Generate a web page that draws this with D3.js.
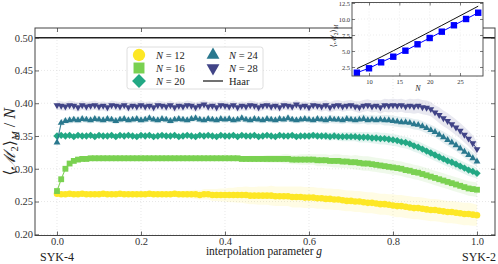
<!DOCTYPE html>
<html>
<head>
<meta charset="utf-8">
<script src="https://cdn.jsdelivr.net/npm/d3@7"></script>
<style>
  body { margin: 0; background: #fff; }
  svg { display: block; font-family: "Liberation Serif", "DejaVu Serif", serif; }
</style>
</head>
<body>
<div id="chart"></div>
<script>
// interpolation parameter g, 0 .. 1 in steps of 0.01
const gValues = d3.range(0, 101).map(i => i / 100);
const sizes = [12, 16, 20, 24, 28];
const xTicks = [0, 0.2, 0.4, 0.6, 0.8, 1.0];
const yTicks = [0.20, 0.25, 0.30, 0.35, 0.40, 0.45, 0.50];
const haarLevel = 0.5;

// <M2>_M / N, mean over samples
const mean12 = [
  0.262,0.261,0.261,0.262,0.261,0.261,0.262,0.261,0.261,0.261,
  0.261,0.262,0.261,0.261,0.261,0.262,0.261,0.261,0.261,0.261,
  0.261,0.261,0.262,0.261,0.261,0.261,0.261,0.261,0.262,0.261,
  0.261,0.261,0.261,0.261,0.260,0.261,0.261,0.260,0.260,0.260,
  0.260,0.260,0.260,0.260,0.260,0.260,0.259,0.259,0.259,0.259,
  0.259,0.259,0.258,0.258,0.258,0.258,0.257,0.257,0.257,0.256,
  0.256,0.256,0.255,0.255,0.254,0.254,0.253,0.253,0.252,0.251,
  0.251,0.250,0.250,0.249,0.248,0.248,0.247,0.246,0.246,0.245,
  0.244,0.243,0.243,0.242,0.241,0.240,0.240,0.239,0.238,0.237,
  0.237,0.236,0.235,0.234,0.234,0.233,0.232,0.231,0.231,0.230,
  0.229];
const mean16 = [
  0.266,0.284,0.300,0.308,0.312,0.314,0.315,0.315,0.316,0.316,
  0.316,0.316,0.316,0.316,0.316,0.316,0.316,0.316,0.316,0.316,
  0.316,0.316,0.316,0.316,0.316,0.316,0.316,0.316,0.316,0.316,
  0.316,0.316,0.316,0.316,0.316,0.316,0.316,0.316,0.316,0.316,
  0.316,0.316,0.316,0.316,0.315,0.315,0.315,0.315,0.315,0.315,
  0.315,0.315,0.315,0.315,0.315,0.315,0.314,0.314,0.314,0.314,
  0.314,0.314,0.313,0.313,0.313,0.312,0.312,0.312,0.311,0.311,
  0.310,0.310,0.309,0.308,0.308,0.307,0.306,0.305,0.304,0.303,
  0.302,0.301,0.300,0.298,0.297,0.295,0.294,0.292,0.290,0.288,
  0.286,0.284,0.282,0.280,0.278,0.276,0.274,0.272,0.270,0.269,
  0.268];
const mean20 = [
  0.350,0.351,0.350,0.351,0.349,0.351,0.350,0.350,0.351,0.349,
  0.351,0.350,0.350,0.351,0.349,0.351,0.350,0.351,0.350,0.349,
  0.351,0.350,0.351,0.349,0.350,0.351,0.350,0.350,0.351,0.349,
  0.350,0.351,0.350,0.349,0.351,0.350,0.351,0.350,0.349,0.351,
  0.350,0.350,0.351,0.349,0.351,0.350,0.350,0.351,0.349,0.350,
  0.351,0.350,0.349,0.351,0.350,0.350,0.351,0.349,0.350,0.350,
  0.350,0.351,0.350,0.350,0.350,0.349,0.350,0.349,0.349,0.349,
  0.349,0.349,0.348,0.348,0.348,0.347,0.347,0.346,0.346,0.345,
  0.344,0.343,0.341,0.340,0.338,0.335,0.333,0.330,0.327,0.324,
  0.321,0.318,0.315,0.312,0.310,0.307,0.304,0.301,0.298,0.296,
  0.293];
const mean24 = [
  0.340,0.370,0.373,0.374,0.375,0.374,0.376,0.375,0.374,0.376,
  0.375,0.374,0.376,0.375,0.373,0.375,0.376,0.374,0.375,0.376,
  0.374,0.375,0.377,0.375,0.374,0.376,0.375,0.373,0.375,0.376,
  0.375,0.374,0.376,0.377,0.375,0.374,0.376,0.375,0.374,0.376,
  0.375,0.376,0.374,0.375,0.377,0.375,0.374,0.376,0.375,0.374,
  0.376,0.375,0.374,0.376,0.375,0.377,0.375,0.374,0.375,0.376,
  0.375,0.374,0.376,0.375,0.374,0.376,0.375,0.375,0.374,0.376,
  0.375,0.374,0.375,0.376,0.374,0.375,0.374,0.375,0.374,0.374,
  0.373,0.372,0.371,0.371,0.370,0.368,0.367,0.365,0.362,0.359,
  0.356,0.352,0.348,0.344,0.340,0.336,0.331,0.326,0.321,0.316,
  0.311];
const mean28 = [
  0.397,0.396,0.395,0.397,0.396,0.394,0.397,0.395,0.396,0.397,
  0.395,0.396,0.394,0.397,0.396,0.395,0.397,0.394,0.396,0.395,
  0.397,0.395,0.396,0.394,0.397,0.396,0.395,0.397,0.394,0.396,
  0.395,0.397,0.396,0.394,0.396,0.398,0.395,0.396,0.394,0.397,
  0.396,0.395,0.397,0.394,0.396,0.395,0.397,0.396,0.394,0.396,
  0.397,0.395,0.396,0.394,0.397,0.396,0.395,0.398,0.395,0.396,
  0.394,0.397,0.396,0.395,0.397,0.394,0.396,0.397,0.395,0.396,
  0.397,0.395,0.394,0.396,0.397,0.395,0.396,0.394,0.397,0.396,
  0.397,0.396,0.397,0.395,0.396,0.395,0.396,0.394,0.393,0.391,
  0.386,0.382,0.377,0.373,0.368,0.363,0.358,0.352,0.346,0.339,
  0.330];

// sample spread (half width of the shaded band)
const std12 = [
  0.003,0.003,0.003,0.003,0.003,0.003,0.003,0.003,0.003,0.003,
  0.003,0.003,0.003,0.003,0.003,0.003,0.003,0.003,0.003,0.003,
  0.003,0.003,0.003,0.003,0.004,0.004,0.004,0.004,0.005,0.005,
  0.005,0.006,0.006,0.007,0.007,0.008,0.008,0.009,0.009,0.010,
  0.010,0.011,0.011,0.012,0.012,0.013,0.013,0.013,0.014,0.014,
  0.014,0.015,0.015,0.015,0.015,0.015,0.016,0.016,0.016,0.016,
  0.016,0.016,0.016,0.016,0.016,0.016,0.016,0.016,0.016,0.016,
  0.016,0.016,0.016,0.016,0.016,0.016,0.016,0.016,0.016,0.016,
  0.017,0.017,0.017,0.017,0.017,0.017,0.017,0.017,0.017,0.017,
  0.017,0.017,0.017,0.017,0.017,0.017,0.017,0.017,0.017,0.017,
  0.016];
const std16 = [
  0.004,0.004,0.003,0.003,0.003,0.003,0.003,0.003,0.003,0.003,
  0.003,0.003,0.003,0.003,0.003,0.003,0.003,0.003,0.003,0.003,
  0.003,0.003,0.003,0.003,0.003,0.003,0.003,0.003,0.003,0.003,
  0.003,0.003,0.003,0.003,0.003,0.003,0.003,0.003,0.003,0.003,
  0.003,0.003,0.004,0.004,0.004,0.004,0.005,0.005,0.005,0.005,
  0.006,0.006,0.006,0.006,0.007,0.007,0.007,0.007,0.008,0.008,
  0.008,0.008,0.009,0.009,0.009,0.009,0.010,0.010,0.010,0.010,
  0.010,0.011,0.011,0.011,0.011,0.011,0.011,0.011,0.011,0.011,
  0.011,0.011,0.011,0.011,0.011,0.011,0.011,0.011,0.011,0.011,
  0.011,0.011,0.011,0.011,0.011,0.011,0.011,0.011,0.011,0.011,
  0.011];
const std20 = [
  0.002,0.002,0.002,0.002,0.002,0.002,0.002,0.002,0.002,0.002,
  0.002,0.002,0.002,0.002,0.002,0.002,0.002,0.002,0.002,0.002,
  0.002,0.002,0.002,0.002,0.002,0.002,0.002,0.002,0.002,0.002,
  0.002,0.002,0.002,0.002,0.002,0.002,0.002,0.002,0.002,0.002,
  0.002,0.002,0.002,0.002,0.002,0.002,0.002,0.002,0.002,0.002,
  0.002,0.002,0.003,0.003,0.003,0.003,0.004,0.004,0.004,0.004,
  0.005,0.005,0.005,0.005,0.006,0.006,0.006,0.006,0.007,0.007,
  0.007,0.007,0.008,0.008,0.008,0.008,0.009,0.009,0.009,0.009,
  0.009,0.009,0.009,0.009,0.009,0.009,0.009,0.009,0.009,0.009,
  0.009,0.009,0.009,0.009,0.009,0.009,0.009,0.009,0.009,0.009,
  0.008];
const std24 = [
  0.006,0.005,0.005,0.005,0.005,0.005,0.005,0.005,0.005,0.005,
  0.005,0.005,0.005,0.005,0.005,0.005,0.005,0.005,0.005,0.005,
  0.005,0.005,0.005,0.005,0.005,0.005,0.005,0.005,0.005,0.005,
  0.005,0.005,0.005,0.005,0.005,0.005,0.005,0.005,0.005,0.005,
  0.005,0.005,0.005,0.005,0.005,0.005,0.005,0.005,0.005,0.005,
  0.005,0.005,0.005,0.005,0.005,0.005,0.005,0.005,0.005,0.005,
  0.005,0.005,0.005,0.006,0.006,0.006,0.006,0.006,0.006,0.006,
  0.006,0.006,0.007,0.007,0.007,0.007,0.007,0.007,0.008,0.008,
  0.008,0.008,0.008,0.008,0.008,0.008,0.008,0.008,0.008,0.008,
  0.008,0.008,0.009,0.009,0.009,0.009,0.009,0.009,0.009,0.009,
  0.008];
const std28 = [
  0.007,0.007,0.007,0.007,0.007,0.007,0.007,0.007,0.007,0.007,
  0.007,0.007,0.007,0.007,0.007,0.007,0.007,0.007,0.007,0.007,
  0.007,0.007,0.007,0.007,0.007,0.007,0.007,0.007,0.007,0.007,
  0.007,0.007,0.007,0.007,0.007,0.007,0.007,0.007,0.007,0.007,
  0.007,0.007,0.007,0.007,0.007,0.007,0.007,0.007,0.007,0.007,
  0.007,0.007,0.007,0.007,0.007,0.007,0.007,0.007,0.007,0.007,
  0.007,0.007,0.007,0.008,0.008,0.008,0.008,0.008,0.008,0.008,
  0.008,0.008,0.009,0.009,0.009,0.009,0.009,0.010,0.010,0.010,
  0.010,0.010,0.010,0.010,0.011,0.011,0.011,0.011,0.011,0.011,
  0.011,0.012,0.012,0.012,0.012,0.012,0.012,0.012,0.012,0.012,
  0.011];

// inset: <M2>_M versus N
const insetN = [8, 10, 12, 14, 16, 18, 20, 22, 24, 26, 28];
const insetMagic = [1.61, 2.30, 3.23, 4.11, 5.05, 6.05, 7.03, 8.02, 9.02, 10.00, 10.98];
const insetHaar = [2.25, 3.13, 4.07, 5.04, 6.02, 7.01, 8.00, 9.00, 10.00, 11.00, 12.00];
const insetXTicks = [10, 15, 20, 25];
const insetYTicks = [2.5, 5.0, 7.5, 10.0, 12.5];

const means = [mean12, mean16, mean20, mean24, mean28];
const stds = [std12, std16, std20, std24, std28];
const colors = ['#fde725', '#7ad151', '#22a884', '#2a788e', '#414487'];
const shapes = ['circle', 'square', 'diamond', 'up', 'down'];

const width = 498, height = 264;
const frame = { left: 35, right: 495, top: 28, bottom: 235.5 };

const svg = d3.select('#chart').append('svg')
  .attr('width', width)
  .attr('height', height);

const x = d3.scaleLinear().domain([0, 1]).range([57, 477]);
const y = d3.scaleLinear().domain([0.2, 0.5]).range([234.3, 37.7]);

function markerPath(shape, size) {
  if (shape == 'circle') return d3.symbol().type(d3.symbolCircle).size(size)();
  if (shape == 'square') return d3.symbol().type(d3.symbolSquare).size(size)();
  if (shape == 'diamond') return d3.symbol().type(d3.symbolSquare).size(size * 0.8)();
  return d3.symbol().type(d3.symbolTriangle).size(size * 0.6)();
}
function markerRotation(shape) {
  if (shape == 'diamond') return 45;
  if (shape == 'down') return 180;
  return 0;
}

// grid
const grid = svg.append('g').attr('class', 'grid');
grid.selectAll('.gx').data(xTicks).enter().append('line')
  .attr('x1', d => x(d)).attr('x2', d => x(d))
  .attr('y1', frame.top).attr('y2', frame.bottom);
grid.selectAll('.gy').data(yTicks).enter().append('line')
  .attr('x1', frame.left).attr('x2', frame.right)
  .attr('y1', d => y(d)).attr('y2', d => y(d));
grid.selectAll('line')
  .attr('stroke', '#d8d8d8').attr('stroke-width', 0.6).attr('stroke-dasharray', '1,2');

// series: band, line, markers
const plot = svg.append('g').attr('class', 'series');
sizes.forEach((n, k) => {
  const rows = gValues.map((g, i) => ({ g: g, m: means[k][i], s: stds[k][i] }));
  const area = d3.area()
    .x(d => x(d.g))
    .y0(d => y(d.m - d.s))
    .y1(d => y(d.m + d.s));
  const line = d3.line().x(d => x(d.g)).y(d => y(d.m));

  plot.append('path').datum(rows)
    .attr('d', area)
    .attr('fill', colors[k])
    .attr('fill-opacity', 0.12);
  plot.append('path').datum(rows)
    .attr('d', line)
    .attr('fill', 'none')
    .attr('stroke', colors[k])
    .attr('stroke-width', 1);
  plot.append('g').selectAll('path').data(rows).enter().append('path')
    .attr('d', markerPath(shapes[k], 34))
    .attr('transform', d => 'translate(' + x(d.g) + ',' + y(d.m) + ') rotate(' + markerRotation(shapes[k]) + ')')
    .attr('fill', colors[k]);
});

// Haar value
svg.append('line')
  .attr('x1', frame.left).attr('x2', frame.right)
  .attr('y1', y(haarLevel)).attr('y2', y(haarLevel))
  .attr('stroke', '#222').attr('stroke-width', 1.6);

// axes with inward ticks
const axes = svg.append('g').attr('class', 'axes');
axes.append('g').attr('transform', 'translate(0,' + frame.bottom + ')')
  .call(d3.axisBottom(x).tickValues(xTicks).tickFormat(d3.format('.1f')).tickSizeInner(-4).tickSizeOuter(0).tickPadding(2.5));
axes.append('g').attr('transform', 'translate(0,' + frame.top + ')')
  .call(d3.axisTop(x).tickValues(xTicks).tickFormat('').tickSizeInner(-4).tickSizeOuter(0));
axes.append('g').attr('transform', 'translate(' + frame.left + ',0)')
  .call(d3.axisLeft(y).tickValues(yTicks).tickFormat(d3.format('.2f')).tickSizeInner(-4).tickSizeOuter(0).tickPadding(2));
axes.append('g').attr('transform', 'translate(' + frame.right + ',0)')
  .call(d3.axisRight(y).tickValues(yTicks).tickFormat('').tickSizeInner(-4).tickSizeOuter(0));
axes.selectAll('.domain').remove();
axes.selectAll('.tick line').attr('stroke', '#444').attr('stroke-width', 0.8);
axes.selectAll('.tick text')
  .attr('font-family', '"Liberation Serif", serif')
  .attr('font-size', 10.5)
  .attr('fill', '#333');

svg.append('rect')
  .attr('x', frame.left).attr('y', frame.top)
  .attr('width', frame.right - frame.left).attr('height', frame.bottom - frame.top)
  .attr('fill', 'none').attr('stroke', '#444').attr('stroke-width', 1);

// axis titles
const xTitle = svg.append('text')
  .attr('x', 264).attr('y', 254.5)
  .attr('text-anchor', 'middle')
  .attr('font-size', 11.5)
  .attr('fill', '#222');
xTitle.append('tspan').text('interpolation parameter ');
xTitle.append('tspan').attr('font-style', 'italic').text('g');

svg.append('text').attr('x', 57).attr('y', 261)
  .attr('text-anchor', 'middle').attr('font-size', 12).attr('fill', '#222').text('SYK-4');
svg.append('text').attr('x', 479).attr('y', 261)
  .attr('text-anchor', 'middle').attr('font-size', 12).attr('fill', '#222').text('SYK-2');

const yTitle = svg.append('text')
  .attr('transform', 'translate(15,142) rotate(-90)')
  .attr('text-anchor', 'middle')
  .attr('font-size', 16)
  .attr('fill', '#222');
yTitle.append('tspan').text('⟨');
yTitle.append('tspan').attr('font-style', 'italic').text('ℳ');
yTitle.append('tspan').attr('font-size', 10.5).attr('dy', 3).text('2');
yTitle.append('tspan').attr('dy', -3).text('⟩');
yTitle.append('tspan').attr('font-size', 10.5).attr('font-style', 'italic').attr('dy', 4).text('M');
yTitle.append('tspan').attr('dy', -4).text(' / ');
yTitle.append('tspan').attr('font-style', 'italic').text('N');

// legend
const legend = svg.append('g').attr('class', 'legend');
legend.append('rect')
  .attr('x', 127).attr('y', 47).attr('width', 136).attr('height', 42).attr('rx', 2.5)
  .attr('fill', '#fff').attr('fill-opacity', 0.85)
  .attr('stroke', '#d6d6d6').attr('stroke-width', 0.8);
const legendItems = sizes.map((n, k) => ({
  n: n, k: k,
  cx: k < 3 ? 139 : 213,
  cy: [55, 68, 81][k < 3 ? k : k - 3],
  tx: k < 3 ? 156 : 229
}));
legendItems.forEach(d => {
  legend.append('path')
    .attr('d', markerPath(shapes[d.k], 120))
    .attr('transform', 'translate(' + d.cx + ',' + d.cy + ') rotate(' + markerRotation(shapes[d.k]) + ')')
    .attr('fill', colors[d.k]);
  const t = legend.append('text').attr('x', d.tx).attr('y', d.cy + 3.5)
    .attr('font-size', 10.5).attr('fill', '#222');
  t.append('tspan').attr('font-style', 'italic').text('N');
  t.append('tspan').text(' = ' + d.n);
});
legend.append('line')
  .attr('x1', 203).attr('x2', 223).attr('y1', 81).attr('y2', 81)
  .attr('stroke', '#111').attr('stroke-width', 1.2);
legend.append('text').attr('x', 229).attr('y', 84.5)
  .attr('font-size', 10.5).attr('fill', '#222').text('Haar');

// inset
const inset = { left: 352, right: 483, top: 2.5, bottom: 76 };
const ix = d3.scaleLinear().domain([10, 25]).range([369, 460]);
const iy = d3.scaleLinear().domain([2.5, 12.5]).range([67, 3]);
const ig = svg.append('g').attr('class', 'inset');
ig.append('rect')
  .attr('x', inset.left).attr('y', inset.top)
  .attr('width', inset.right - inset.left).attr('height', inset.bottom - inset.top)
  .attr('fill', '#fff');
ig.selectAll('.ix').data(insetXTicks).enter().append('line')
  .attr('x1', d => ix(d)).attr('x2', d => ix(d))
  .attr('y1', inset.top).attr('y2', inset.bottom)
  .attr('stroke', '#d8d8d8').attr('stroke-width', 0.5).attr('stroke-dasharray', '1,2');
ig.selectAll('.iy').data(insetYTicks).enter().append('line')
  .attr('x1', inset.left).attr('x2', inset.right)
  .attr('y1', d => iy(d)).attr('y2', d => iy(d))
  .attr('stroke', '#d8d8d8').attr('stroke-width', 0.5).attr('stroke-dasharray', '1,2');

const insetRows = insetN.map((n, i) => ({ n: n, magic: insetMagic[i], haar: insetHaar[i] }));
ig.append('path').datum(insetRows)
  .attr('d', d3.line().x(d => ix(d.n)).y(d => iy(d.haar)))
  .attr('fill', 'none').attr('stroke', '#111').attr('stroke-width', 1);
ig.append('path').datum(insetRows)
  .attr('d', d3.line().x(d => ix(d.n)).y(d => iy(d.magic)))
  .attr('fill', 'none').attr('stroke', '#0000ff').attr('stroke-width', 1);
ig.selectAll('.sq').data(insetRows).enter().append('rect')
  .attr('x', d => ix(d.n) - 3.2).attr('y', d => iy(d.magic) - 3.2)
  .attr('width', 6.4).attr('height', 6.4)
  .attr('fill', '#0000ff');

const iaxes = ig.append('g');
iaxes.append('g').attr('transform', 'translate(0,' + inset.bottom + ')')
  .call(d3.axisBottom(ix).tickValues(insetXTicks).tickSizeInner(-3).tickSizeOuter(0).tickPadding(3));
iaxes.append('g').attr('transform', 'translate(0,' + inset.top + ')')
  .call(d3.axisTop(ix).tickValues(insetXTicks).tickFormat('').tickSizeInner(-3).tickSizeOuter(0));
iaxes.append('g').attr('transform', 'translate(' + inset.left + ',0)')
  .call(d3.axisLeft(iy).tickValues(insetYTicks).tickFormat(d3.format('.1f')).tickSizeInner(-3).tickSizeOuter(0).tickPadding(2));
iaxes.append('g').attr('transform', 'translate(' + inset.right + ',0)')
  .call(d3.axisRight(iy).tickValues(insetYTicks).tickFormat('').tickSizeInner(-3).tickSizeOuter(0));
iaxes.selectAll('.domain').remove();
iaxes.selectAll('.tick line').attr('stroke', '#444').attr('stroke-width', 0.7);
iaxes.selectAll('.tick text')
  .attr('font-family', '"Liberation Serif", serif')
  .attr('font-size', 6.5)
  .attr('fill', '#333');
ig.append('rect')
  .attr('x', inset.left).attr('y', inset.top)
  .attr('width', inset.right - inset.left).attr('height', inset.bottom - inset.top)
  .attr('fill', 'none').attr('stroke', '#444').attr('stroke-width', 0.9);

ig.append('text').attr('x', 418).attr('y', 91)
  .attr('text-anchor', 'middle').attr('font-size', 8).attr('font-style', 'italic')
  .attr('fill', '#222').text('N');
const iyTitle = ig.append('text')
  .attr('transform', 'translate(336,36) rotate(-90)')
  .attr('text-anchor', 'middle')
  .attr('font-size', 8)
  .attr('fill', '#222');
iyTitle.append('tspan').text('⟨ℳ');
iyTitle.append('tspan').attr('font-size', 5.5).attr('dy', 2).text('2');
iyTitle.append('tspan').attr('dy', -2).text('⟩');
iyTitle.append('tspan').attr('font-size', 5.5).attr('font-style', 'italic').attr('dy', 2).text('M');
</script>
</body>
</html>
